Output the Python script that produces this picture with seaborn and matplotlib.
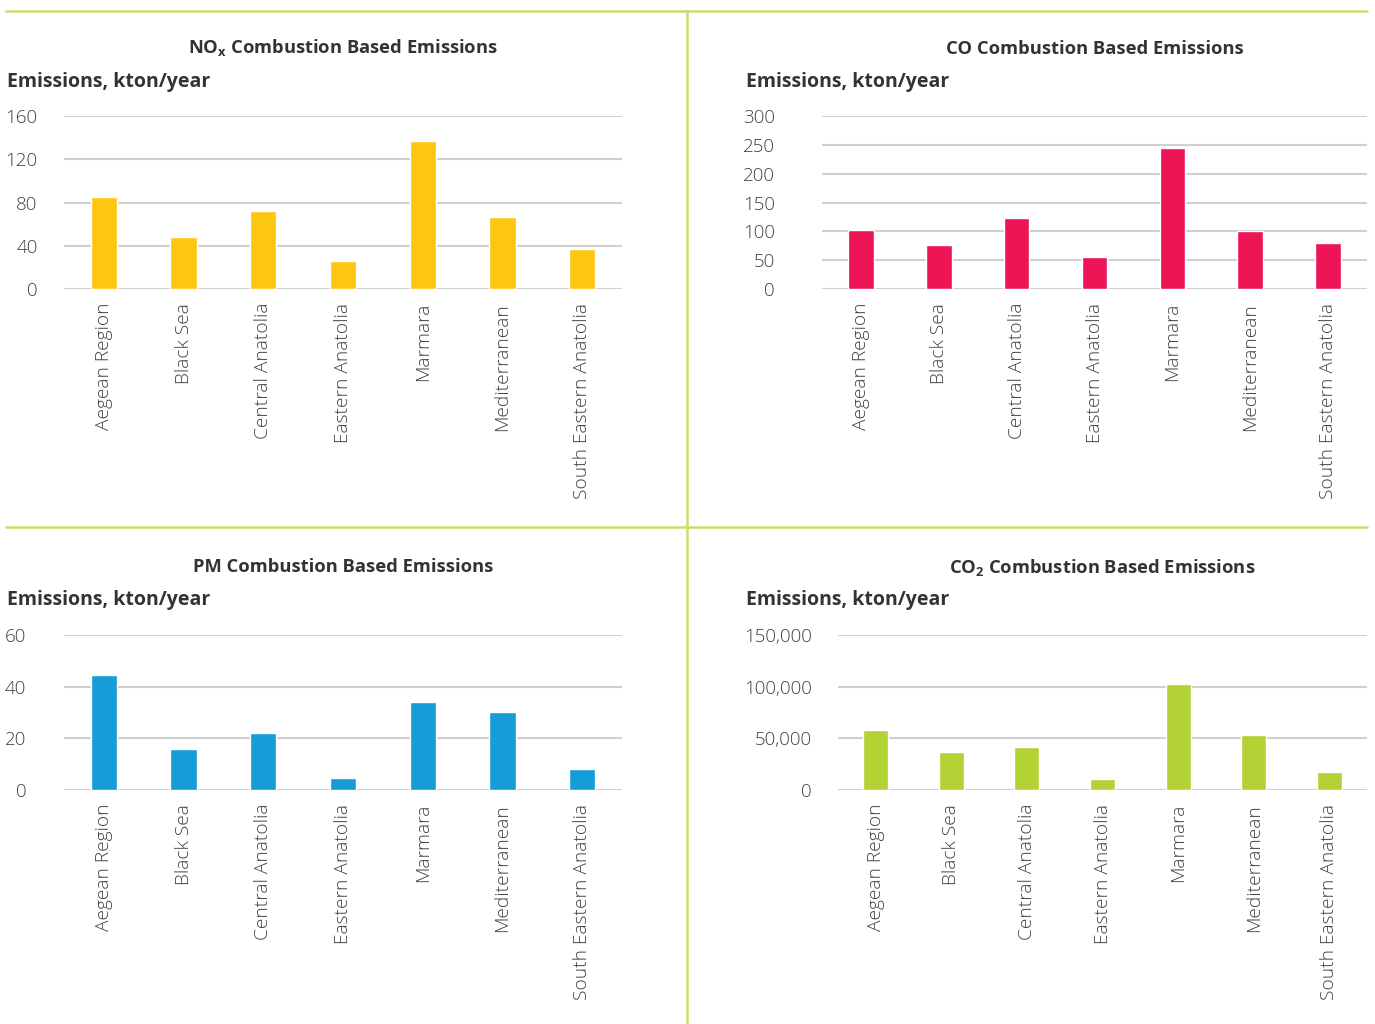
import matplotlib
matplotlib.use("Agg")
import matplotlib.pyplot as plt
from matplotlib.lines import Line2D
from matplotlib.ticker import FuncFormatter
import seaborn as sns

sns.set_theme(style="white")
plt.rcParams["font.family"] = ["Open Sans", "DejaVu Sans"]

regions = ["Aegean Region", "Black Sea", "Central Anatolia", "Eastern Anatolia",
           "Marmara", "Mediterranean", "South Eastern Anatolia"]

nox = [85, 48, 72, 26, 137, 67, 37]
co = [102, 76, 123, 55, 244, 100, 79]
pm = [44.7, 16, 22, 4.7, 34.2, 30.3, 8.2]
co2 = [58300, 36900, 41800, 10700, 103000, 53500, 17500]

nox_ticks = [0, 40, 80, 120, 160]
co_ticks = [0, 50, 100, 150, 200, 250, 300]
pm_ticks = [0, 20, 40, 60]
co2_ticks = [0, 50000, 100000, 150000]

W, H = 1375, 1024
fig = plt.figure(figsize=(W / 100, H / 100), dpi=100)

TEXT = "#333333"
TICK = "#404040"
GRID = "#d0d0d0"
DIVIDER = "#c8dd6e"


def px_axes(x0, x1, ytop, ybot):
    return fig.add_axes([x0 / W, 1 - ybot / H, (x1 - x0) / W, (ybot - ytop) / H])


def panel(ax, values, ticks, color, title, ypad, fmt=None):
    sns.barplot(x=regions, y=values, color=color, saturation=1, width=0.33, ax=ax)
    ax.set_ylim(ticks[0], ticks[-1])
    ax.set_yticks(ticks)
    if fmt:
        ax.yaxis.set_major_formatter(FuncFormatter(fmt))
    ax.set_xlim(-0.5, len(regions) - 0.5)
    for s in ax.spines.values():
        s.set_visible(False)
    ax.grid(axis="y", color=GRID, linewidth=1.5)
    ax.set_axisbelow(True)
    ax.tick_params(axis="y", length=0, pad=ypad, labelsize=13.5, labelcolor=TICK)
    ax.tick_params(axis="x", length=0, pad=10, labelsize=13.8, labelcolor=TICK,
                   labelrotation=90)
    for lab in ax.get_xticklabels() + ax.get_yticklabels():
        lab.set_fontweight("light")
    ax.set_xlabel("")
    ax.set_ylabel("")
    ax.set_title(title, fontsize=13.2, fontweight="bold", color=TEXT, pad=45)


thousands = lambda v, p: f"{int(v):,}"

ax1 = px_axes(64, 622, 116, 289)
panel(ax1, nox, nox_ticks, "#fdc60f", r"NO$_\mathregular{x}$ Combustion Based Emissions", 19)
ax2 = px_axes(822, 1367, 116, 289)
panel(ax2, co, co_ticks, "#ed1555", "CO Combustion Based Emissions", 34)
ax3 = px_axes(64, 622, 635, 790)
panel(ax3, pm, pm_ticks, "#169cd8", "PM Combustion Based Emissions", 27)
ax4 = px_axes(838, 1367, 635, 790)
panel(ax4, co2, co2_ticks, "#b2d235", r"CO$_\mathregular{2}$ Combustion Based Emissions", 19, thousands)

# Unit captions above each panel
for x, y in [(7, 82), (746, 82), (7, 600), (746, 600)]:
    fig.text(x / W, 1 - y / H, "Emissions, kton/year", fontsize=14, fontweight="bold",
             color=TEXT, ha="left", va="center")

# Green frame dividing the four panels
for xs, ys in [((6, 1367), (11, 11)), ((6, 1367), (527, 527)), ((687, 687), (11, 1024))]:
    fig.add_artist(Line2D([xs[0] / W, xs[1] / W], [1 - ys[0] / H, 1 - ys[1] / H],
                          transform=fig.transFigure, color=DIVIDER, linewidth=1.8))

fig.savefig("out.png", dpi=100)
